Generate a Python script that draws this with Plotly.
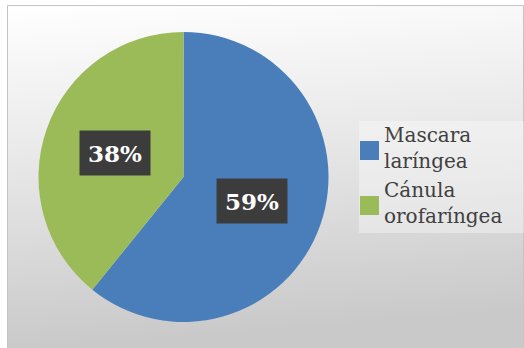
import math
import plotly.graph_objects as go

# Data
categories = ["Mascara laríngea", "Cánula orofaríngea"]
legend_labels = ["Mascara<br>laríngea", "Cánula<br>orofaríngea"]
values = [59, 38]
colors = ["#4a7ebb", "#9bbb59"]

W, H = 524, 348

# Pie placement (pixels)
pie_left, pie_right = 38.5, 328.5
pie_top, pie_bottom = 32, 322
cx = (pie_left + pie_right) / 2
cy = (pie_top + pie_bottom) / 2
R = (pie_right - pie_left) / 2


def px(x):
    return x / W


def py(y):
    return 1 - y / H


fig = go.Figure()

fig.add_trace(go.Pie(
    labels=categories,
    values=values,
    marker=dict(colors=colors, line=dict(width=0)),
    sort=False,
    direction="clockwise",
    rotation=0,
    textinfo="none",
    hoverinfo="label+value",
    showlegend=False,
    domain=dict(x=[px(pie_left), px(pie_right)], y=[py(pie_bottom), py(pie_top)]),
))

# Value labels at half radius along each slice's mid-angle
total = sum(values)
cum = 0
annotations = []
for v in values:
    mid = (cum + v / 2) / total * 2 * math.pi
    cum += v
    lx = cx + 0.5 * R * math.sin(mid)
    ly = cy - 0.5 * R * math.cos(mid)
    annotations.append(dict(
        x=px(lx), y=py(ly), xref="paper", yref="paper",
        text=f"<b>{v}%</b>", showarrow=False,
        font=dict(family="DejaVu Serif", size=23, color="white"),
        bgcolor="#3c3c3c", width=66, height=40, borderpad=2,
        xanchor="center", yanchor="middle",
    ))

# Legend
shapes = []
legend_rows = [150.5, 205.5]
for lab, col, ry in zip(legend_labels, colors, legend_rows):
    shapes.append(dict(type="rect", xref="paper", yref="paper",
                       x0=px(360), x1=px(379), y0=py(ry + 9.5), y1=py(ry - 9.5),
                       fillcolor=col, line=dict(width=0)))
    annotations.append(dict(
        x=px(382), y=py(ry - 2.5), xref="paper", yref="paper",
        text=lab, showarrow=False, align="left",
        xanchor="left", yanchor="middle",
        font=dict(family="DejaVu Serif", size=20, color="#404040"),
    ))

# Legend background
shapes.insert(0, dict(type="rect", xref="paper", yref="paper", layer="below",
                      x0=px(359), x1=px(524), y0=py(233), y1=py(121),
                      fillcolor="rgba(255,255,255,0.35)", line=dict(width=0)))
# Chart area border (left, top, right edges)
border = dict(type="path", xref="paper", yref="paper", layer="below",
              path=f"M {px(7.5)},{py(360)} L {px(7.5)},{py(5.5)} L {px(523.5)},{py(5.5)} L {px(523.5)},{py(360)}",
              line=dict(color="#c4c4c4", width=1))
shapes.insert(0, border)

gradient_svg = (
    "data:image/svg+xml;utf8,"
    "<svg xmlns='http://www.w3.org/2000/svg' width='100' height='100' preserveAspectRatio='none'>"
    "<defs><linearGradient id='g' x1='0' y1='0' x2='0.12' y2='1'>"
    "<stop offset='0' stop-color='%23ffffff'/>"
    "<stop offset='0.45' stop-color='%23e8e8e8'/>"
    "<stop offset='1' stop-color='%23c9c9c9'/>"
    "</linearGradient></defs>"
    "<rect width='100' height='100' fill='url(%23g)'/></svg>"
)

fig.update_layout(
    width=W, height=H,
    margin=dict(l=0, r=0, t=0, b=0),
    paper_bgcolor="white",
    plot_bgcolor="white",
    shapes=shapes,
    annotations=annotations,
    images=[dict(source=gradient_svg, xref="paper", yref="paper",
                 x=px(7.5), y=py(5.5), sizex=px(524 - 7.5), sizey=(H - 5.5) / H,
                 sizing="stretch", layer="below", xanchor="left", yanchor="top")],
)

fig.write_html("out.html")
